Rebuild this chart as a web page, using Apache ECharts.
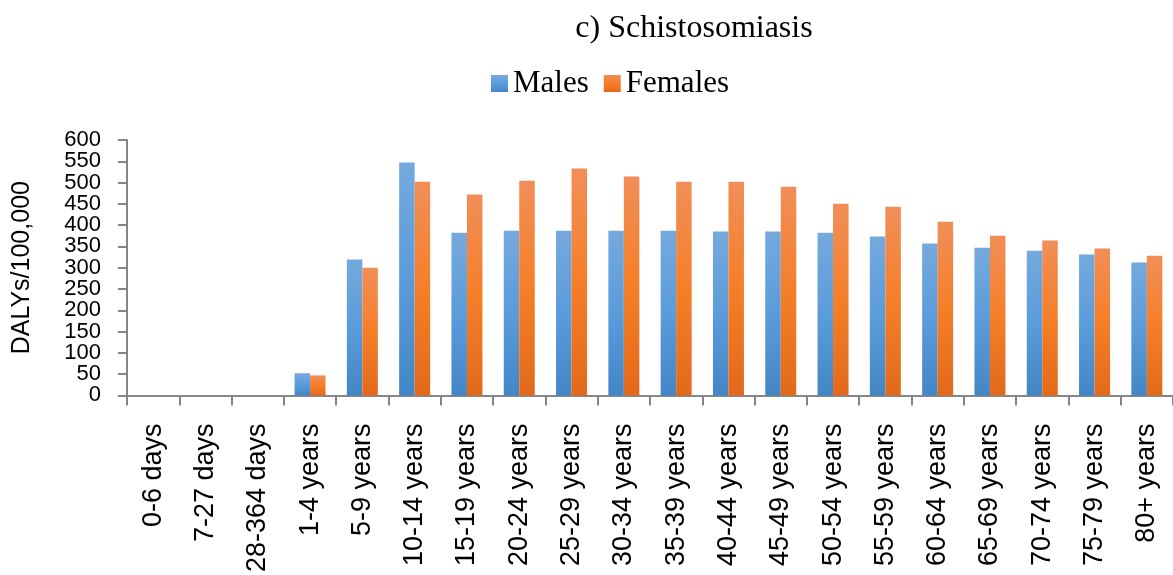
<!DOCTYPE html>
<html>
<head>
<meta charset="utf-8">
<script src="https://cdn.jsdelivr.net/npm/echarts@6/dist/echarts.min.js"></script>
<style>html,body{margin:0;padding:0;background:#fff}#c{width:1173px;height:575px}</style>
</head>
<body>
<div id="c"></div>
<script>
const categories = ['0-6 days','7-27 days','28-364 days','1-4 years','5-9 years','10-14 years','15-19 years','20-24 years','25-29 years','30-34 years','35-39 years','40-44 years','45-49 years','50-54 years','55-59 years','60-64 years','65-69 years','70-74 years','75-79 years','80+ years'];
const males   = [0,0,0,52,319,547,382,387,387,387,387,385,385,382,373,357,347,340,331,312];
const females = [0,0,0,47,300,502,472,504,533,514,502,502,490,450,443,408,375,364,345,328];
const yMin = 0, yMax = 600, yStep = 50;

function grad(c0,c1,c2){
  return {type:'linear',x:0,y:0,x2:0,y2:1,colorStops:[{offset:0,color:c0},{offset:0.5,color:c1},{offset:1,color:c2}]};
}
const axisGray = '#868686';
const labelStyle = {fontFamily:'Liberation Sans',fontSize:22,color:'#000',margin:26};
const chart = echarts.init(document.getElementById('c'));
chart.setOption({
  animation:false,
  backgroundColor:'#fff',
  title:{text:'c) Schistosomiasis',left:689,textAlign:'center',top:8,
    textStyle:{fontFamily:'Liberation Serif',fontSize:32,fontWeight:'normal',color:'#000'}},
  legend:{left:486,top:63,itemWidth:17,itemHeight:17,itemGap:15,icon:'rect',
    textStyle:{fontFamily:'Liberation Serif',fontSize:31,color:'#000'},
    data:['Males','Females']},
  grid:{left:127,top:140,width:1060,bottom:179,containLabel:false},
  xAxis:{type:'category',data:categories,
    axisLine:{lineStyle:{color:axisGray,width:2}},
    axisTick:{show:true,length:10,alignWithLabel:false,lineStyle:{color:axisGray,width:2}},
    axisLabel:{rotate:90,margin:28,interval:0,fontFamily:'Liberation Sans',fontSize:27,color:'#000'}},
  yAxis:[
    {type:'value',min:yMin,max:yMax,interval:yStep,position:'left',
      name:'DALYs/100,000',nameLocation:'middle',nameGap:92,
      nameTextStyle:{fontFamily:'Liberation Sans',fontSize:25,color:'#000'},
      axisLine:{show:true,lineStyle:{color:axisGray,width:2}},
      axisTick:{show:true,length:9,lineStyle:{color:axisGray,width:2}},
      splitLine:{show:false},
      axisLabel:Object.assign({formatter:v=>(v%100===50?String(v):'')},labelStyle)},
    {type:'value',min:yMin,max:yMax,interval:yStep*2,position:'left',offset:0,
      axisLine:{show:false},axisTick:{show:false},splitLine:{show:false},
      axisLabel:Object.assign({showMinLabel:true,showMaxLabel:true},labelStyle)}
  ],
  series:[
    {name:'Males',type:'bar',data:males,barWidth:15.5,barGap:'0%',
      itemStyle:{color:grad('#75a9dd','#5b9cdb','#4386c6')}},
    {name:'Females',type:'bar',data:females,barWidth:15.5,barGap:'0%',
      itemStyle:{color:grad('#f18e58','#f57f29','#e3691a')}}
  ]
});
</script>
</body>
</html>
